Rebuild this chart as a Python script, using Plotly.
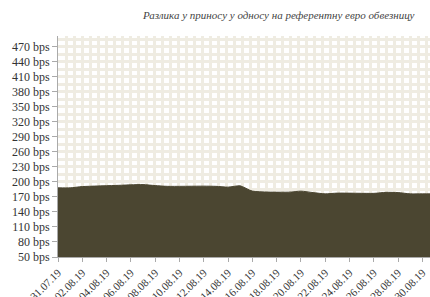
import plotly.graph_objects as go

dates = ["2019-07-31", "2019-08-01", "2019-08-02", "2019-08-05", "2019-08-06",
         "2019-08-07", "2019-08-08", "2019-08-09", "2019-08-12", "2019-08-13",
         "2019-08-14", "2019-08-15", "2019-08-16", "2019-08-19", "2019-08-20",
         "2019-08-21", "2019-08-22", "2019-08-23", "2019-08-26", "2019-08-27",
         "2019-08-28", "2019-08-29", "2019-08-30", "2019-09-02"]
spread = [188, 188, 190.5, 193, 194, 194.5, 192.5, 191, 191.4, 191,
          189.4, 192, 181.5, 179.4, 181.4, 178.5, 176, 177.5, 177, 179,
          178.5, 176, 176, 176]

tick_dates = ["2019-07-31", "2019-08-02", "2019-08-04", "2019-08-06", "2019-08-08",
              "2019-08-10", "2019-08-12", "2019-08-14", "2019-08-16", "2019-08-18",
              "2019-08-20", "2019-08-22", "2019-08-24", "2019-08-26", "2019-08-28",
              "2019-08-30"]
tick_labels = ["31.07.19", "02.08.19", "04.08.19", "06.08.19", "08.08.19",
               "10.08.19", "12.08.19", "14.08.19", "16.08.19", "18.08.19",
               "20.08.19", "22.08.19", "24.08.19", "26.08.19", "28.08.19",
               "30.08.19"]
y_ticks = list(range(50, 471, 30))
y_labels = [f"{v} bps" for v in y_ticks]

title = "Разлика у приносу у односу на референтну евро обвезницу"

GRID = "#EFECE2"
AREA = "#4B4631"
FONT = "Liberation Serif"

fig = go.Figure()
# hidden overlay axis for the vertical background grid pattern
fig.add_trace(go.Scatter(x=[0, 46.5], y=[None, None], xaxis="x2", yaxis="y",
                         mode="lines", showlegend=False, hoverinfo="skip"))
fig.add_trace(go.Scatter(x=dates, y=spread, mode="lines", fill="tozeroy",
                         line=dict(color=AREA, width=1, shape="spline", smoothing=0.6),
                         fillcolor=AREA, showlegend=False))

fig.update_layout(
    width=430, height=297,
    margin=dict(l=58, r=0, t=36, b=40, autoexpand=False),
    paper_bgcolor="white", plot_bgcolor="white",
    font=dict(family=FONT, size=12, color="#333333"),
    xaxis=dict(type="date", range=["2019-07-31", "2019-08-30 15:00"],
               tickmode="array", tickvals=tick_dates, ticktext=tick_labels,
               tickangle=-45, ticks="outside", ticklen=4, tickcolor="#aaaaaa",
               showline=True, linecolor="#aaaaaa", linewidth=1, automargin=False,
               showgrid=False, zeroline=False,
               tickfont=dict(family=FONT, size=11, color="#333333")),
    xaxis2=dict(overlaying="x", range=[0, 46.5], dtick=1, showgrid=True,
                gridcolor=GRID, gridwidth=3, showticklabels=False, automargin=False,
                zeroline=False, showline=False, ticks=""),
    yaxis=dict(range=[50, 491], tickmode="array", tickvals=y_ticks, ticktext=y_labels,
               ticks="outside", ticklen=5, tickcolor="#aaaaaa", automargin=False,
               showline=True, linecolor="#aaaaaa", linewidth=1,
               showgrid=True, gridcolor=GRID, gridwidth=3, zeroline=False,
               minor=dict(dtick=15, tick0=50, showgrid=True, gridcolor=GRID, gridwidth=3),
               tickfont=dict(family=FONT, size=12, color="#333333")),
    annotations=[dict(text=title, xref="paper", yref="paper", x=0.965, y=1.0,
                      yshift=21, xanchor="right", yanchor="middle", showarrow=False,
                      font=dict(family=FONT, size=11, color="#444444", style="italic"))],
)

fig.write_html("out.html", config={"displayModeBar": False},
               post_script="document.body.style.margin='0';document.body.style.overflow='hidden';")
